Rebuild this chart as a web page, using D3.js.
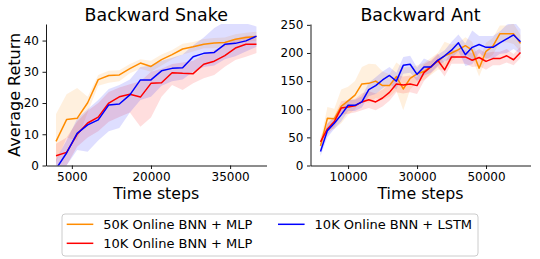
<!DOCTYPE html>
<html><head><meta charset="utf-8">
<script src="https://cdn.jsdelivr.net/npm/d3@7"></script>
<style>
html,body{margin:0;padding:0;background:#fff;}
text{font-family:"DejaVu Sans",sans-serif;fill:#000;}
</style></head>
<body><svg id="c" width="540" height="259"></svg>
<script>
// ---------- data ----------
const seriesNames = ["50K Online BNN + MLP", "10K Online BNN + MLP", "10K Online BNN + LSTM"];
const seriesColors = ["#ff8c00", "#ff0000", "#0000ff"];

// Backward Snake (x = 2000..40000 step 2000)
const snakeSteps = [2000,4000,6000,8000,10000,12000,14000,16000,18000,20000,22000,24000,26000,28000,30000,32000,34000,36000,38000,40000];
const snakeOrange = [7.7,14.7,15.1,20.1,27.5,28.8,29.0,31.0,32.8,31.7,33.9,35.5,37.3,38.0,38.8,39.2,39.4,40.4,41.0,41.3];
const snakeOrangeLo = [1,9,8,17,25.5,26.5,27,29.5,31,30,32,34,35.5,36.5,37.5,37.5,38,39,39.5,40];
const snakeOrangeHi = [16.5,22.8,24.8,22,29,30.3,30.5,32.5,34,33.5,35.5,37,39,39.5,40.5,40.8,41,42,42.5,42.8];
const snakeRed = [3.1,4.2,10.0,13.6,15.5,20.0,22.0,22.8,21.9,26.3,26.5,29.7,29.5,29.4,32.4,33.4,35.2,37.6,38.8,38.8];
const snakeRedLo = [0,0,6,9,11,14,15.5,17,12.4,15.4,22,25.8,24.2,26.3,27.9,29,31.6,33.8,34.8,36];
const snakeRedHi = [7,9,14,17.5,20,23.5,25,26,27,30,31,32.5,33,33.5,35.5,37,38.5,40.5,41.5,41.5];
const snakeBlue = [-1.1,4.0,10.3,13.0,14.6,19.4,19.7,22.6,27.4,27.4,30.3,31.1,31.3,34.8,35.9,36.2,38.8,39.1,39.9,41.4];
const snakeBlueLo = [-4,0,5,4.4,8,11,12,17,21,22,25.5,27,27.5,30,31.5,32,34,35,36.5,38];
const snakeBlueHi = [2,8,15,18,21,24.5,25.8,27.5,31.5,32,33.5,34.5,35.5,38.5,41,44,46,46,45.5,44.5];

// Backward Ant (x = 2000..60000 step 2000)
const antSteps = [2000,4000,6000,8000,10000,12000,14000,16000,18000,20000,22000,24000,26000,28000,30000,32000,34000,36000,38000,40000,42000,44000,46000,48000,50000,52000,54000,56000,58000,60000];
const antOrange = [35,84,83,105,115,125,145,146,150,142,142,158,136,155,163,167,176,185,195,200,206,213,205,173,203,212,234,234,234,217];
const antOrangeStd = [10,20,18,30,25,25,30,35,30,25,20,25,38,20,15,15,15,15,25,15,12,15,15,15,15,15,15,15,18,15];
const antRed = [42,65,78,102,104,106,113,117,113,120,130,145,143,145,142,165,175,187,170,193,193,193,187,192,185,190,190,195,188,201];
const antRedStd = [8,10,10,12,12,12,15,15,15,15,15,15,15,15,15,15,12,12,12,12,12,12,12,15,15,12,12,12,10,10];
const antBlue = [25,62,75,90,107,107,113,135,142,152,160,150,178,180,162,175,175,187,195,205,218,197,210,215,210,210,218,225,232,220];
const antBlueStd = [8,12,10,12,10,10,10,12,15,15,15,15,15,15,12,15,10,10,10,15,15,20,30,15,20,20,20,25,25,22];

const snakeYTicks = [0,10,20,30,40];
const snakeXTicks = [5000,20000,35000];
const antYTicks = [0,50,100,150,200,250];
const antXTicks = [10000,30000,50000];

// ---------- drawing ----------
const svg = d3.select("#c");
const plotTop = 24, plotBottom = 165.5;

function panel(cfg){
  const x = d3.scaleLinear().domain(cfg.xDomain).range(cfg.xRange);
  const y = d3.scaleLinear().domain(cfg.yDomain).range([plotBottom, plotTop]);
  const g = svg.append("g");
  const clipId = "clip" + cfg.id;
  svg.append("clipPath").attr("id", clipId).append("rect")
    .attr("x", cfg.xRange[0]).attr("y", plotTop)
    .attr("width", cfg.xRange[1]-cfg.xRange[0]).attr("height", plotBottom-plotTop);
  const plot = g.append("g").attr("clip-path", `url(#${clipId})`);
  cfg.series.forEach((s,i)=>{
    const pts = cfg.steps.map((st,j)=>({x:st, m:s.mean[j], lo:s.lo[j], hi:s.hi[j]}));
    plot.append("path").datum(pts)
      .attr("d", d3.area().x(d=>x(d.x)).y0(d=>y(d.lo)).y1(d=>y(d.hi)))
      .attr("fill", seriesColors[i]).attr("fill-opacity", 0.13).attr("stroke","none");
  });
  cfg.series.forEach((s,i)=>{
    const pts = cfg.steps.map((st,j)=>({x:st, m:s.mean[j]}));
    plot.append("path").datum(pts)
      .attr("d", d3.line().x(d=>x(d.x)).y(d=>y(d.m)))
      .attr("fill","none").attr("stroke", seriesColors[i]).attr("stroke-width",1.5)
      .attr("stroke-linejoin","round");
  });
  const xa = g.append("g").attr("transform",`translate(0,${plotBottom})`)
    .call(d3.axisBottom(x).tickValues(cfg.xTicks).tickFormat(d3.format("d")).tickSize(3.5).tickPadding(3.5).tickSizeOuter(0));
  const ya = g.append("g").attr("transform",`translate(${cfg.xRange[0]},0)`)
    .call(d3.axisLeft(y).tickValues(cfg.yTicks).tickFormat(d3.format("d")).tickSize(3.5).tickPadding(3.5).tickSizeOuter(0));
  [xa,ya].forEach(a=>{
    a.selectAll("text").style("font-size","12px").style("font-family","DejaVu Sans");
    a.select(".domain").attr("stroke","#000").attr("stroke-width",0.9);
    a.selectAll(".tick line").attr("stroke","#000").attr("stroke-width",0.9);
  });
  g.append("text").attr("x",(cfg.xRange[0]+cfg.xRange[1])/2).attr("y",20.5)
    .attr("text-anchor","middle").style("font-size","17.4px").text(cfg.title);
  g.append("text").attr("x",(cfg.xRange[0]+cfg.xRange[1])/2).attr("y",199)
    .attr("text-anchor","middle").style("font-size","15.8px").text("Time steps");
  if(cfg.ylabel){
    g.append("text").attr("transform",`translate(19.5,${(plotTop+plotBottom)/2}) rotate(-90)`)
      .attr("text-anchor","middle").style("font-size","16px").text(cfg.ylabel);
  }
}

panel({id:"s", title:"Backward Snake", ylabel:"Average Return",
  xDomain:[100,41900], xRange:[46,266.5], yDomain:[0,45.3],
  steps:snakeSteps, xTicks:snakeXTicks, yTicks:snakeYTicks,
  series:[
    {mean:snakeOrange, lo:snakeOrangeLo, hi:snakeOrangeHi},
    {mean:snakeRed, lo:snakeRedLo, hi:snakeRedHi},
    {mean:snakeBlue, lo:snakeBlueLo, hi:snakeBlueHi}
  ]});

function band(m,s){ return {mean:m, lo:m.map((v,i)=>v-s[i]), hi:m.map((v,i)=>v+s[i])}; }
panel({id:"a", title:"Backward Ant", ylabel:null,
  xDomain:[-900,62900], xRange:[310.5,530.5], yDomain:[0,251.5],
  steps:antSteps, xTicks:antXTicks, yTicks:antYTicks,
  series:[band(antOrange,antOrangeStd), band(antRed,antRedStd), band(antBlue,antBlueStd)]});

// legend
const lg = svg.append("g");
lg.append("rect").attr("x",62).attr("y",214).attr("width",416).attr("height",42)
  .attr("rx",3).attr("fill","#fff").attr("stroke","#cccccc").attr("stroke-width",1);
const legendPos = [[66.7,224.3],[66.7,243.3],[278,224.3]];
seriesNames.forEach((n,i)=>{
  const [lx,ly] = legendPos[i];
  lg.append("line").attr("x1",lx).attr("x2",lx+26.6).attr("y1",ly).attr("y2",ly)
    .attr("stroke",seriesColors[i]).attr("stroke-width",1.5);
  lg.append("text").attr("x",lx+36.6).attr("y",ly+4.7).style("font-size","13px").text(n);
});
</script></body></html>
